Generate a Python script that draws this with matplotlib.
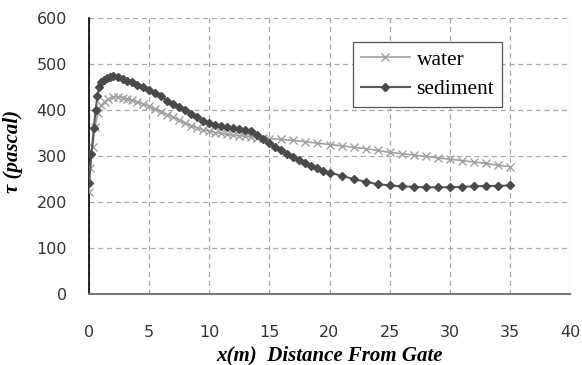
import matplotlib.pyplot as plt

# distance from gate (m) and shear stress (pascal)
water_x = [0, 0.1, 0.3, 0.5, 0.75, 1.0, 1.3, 1.6, 2.0, 2.4, 2.8, 3.2, 3.6, 4.0,
           4.5, 5.0, 5.5, 6.0, 6.5, 7.0, 7.5, 8.0, 8.5, 9.0, 9.5, 10.0, 10.5,
           11.0, 11.5, 12.0, 12.5, 13.0, 13.5, 14.0, 14.5, 15.0, 16, 17, 18,
           19, 20, 21, 22, 23, 24, 25, 26, 27, 28, 29, 30, 31, 32, 33, 34, 35]
water_tau = [222, 274, 320, 364, 393, 410, 418, 424, 428, 429, 427, 424, 421, 418,
             413, 408, 402, 396, 390, 384, 378, 372, 366, 361, 357, 354, 351,
             349, 347, 345, 344, 343, 341, 340, 339, 338, 336, 334, 331,
             328, 325, 322, 319, 316, 312, 308, 305, 302, 299, 296, 293, 290,
             287, 284, 280, 277]

sed_x = [0, 0.2, 0.4, 0.55, 0.7, 0.85, 1.0, 1.25, 1.5, 1.75, 2.0, 2.4, 2.8, 3.2,
         3.6, 4.0, 4.5, 5.0, 5.5, 6.0, 6.5, 7.0, 7.5, 8.0, 8.5, 9.0, 9.5, 10.0,
         10.5, 11.0, 11.5, 12.0, 12.5, 13.0, 13.5, 14.0, 14.5, 15.0, 15.5, 16,
         16.5, 17, 17.5, 18, 18.5, 19, 19.5, 20, 21, 22, 23, 24, 25, 26, 27,
         28, 29, 30, 31, 32, 33, 34, 35]
sed_tau = [241, 304, 360, 400, 431, 450, 460, 466, 470, 472, 473, 471, 468, 464,
           460, 455, 450, 444, 438, 430, 420, 412, 406, 400, 392, 384, 376, 372,
           368, 365, 363, 361, 359, 357, 354, 346, 336, 328, 320, 312,
           305, 298, 291, 285, 279, 273, 268, 264, 257, 250, 244, 239, 236, 234,
           233, 232, 232, 232, 233, 234, 235, 235, 236]

x_ticks = [0, 5, 10, 15, 20, 25, 30, 35, 40]
y_ticks = [0, 100, 200, 300, 400, 500, 600]

fig = plt.figure(figsize=(5.82, 3.65), dpi=100)
ax = fig.add_axes([89 / 582, 1 - 294 / 365, 481 / 582, 276 / 365])

ax.plot(water_x, water_tau, color='#a0a0a0', marker='x', markersize=6,
        markeredgewidth=1.0, linewidth=1.2, label='water', zorder=3)
ax.plot(sed_x, sed_tau, color='#5a5a5a', marker='D', markersize=4,
        markerfacecolor='#4a4a4a', markeredgecolor='#4a4a4a',
        linewidth=1.5, label='sediment', zorder=4)

ax.set_xlim(0, 40)
ax.set_ylim(0, 600)
ax.set_xticks(x_ticks)
ax.set_yticks(y_ticks)
ax.grid(True, linestyle=(0, (4, 3)), color='#a8a8a8', linewidth=0.9)
ax.tick_params(length=0, labelsize=11.5, labelcolor='#333333')
ax.tick_params(axis='x', pad=22)
ax.tick_params(axis='y', pad=16)
for lab in ax.get_xticklabels() + ax.get_yticklabels():
    lab.set_family('DejaVu Sans')

for s in ['top', 'right']:
    ax.spines[s].set_visible(False)
ax.spines['left'].set_color('black')
ax.spines['left'].set_linewidth(1.2)
ax.spines['bottom'].set_color('#777777')
ax.spines['bottom'].set_linewidth(1.5)

ax.set_xlabel('x(m)  Distance From Gate', family='Liberation Serif',
              fontsize=15, fontweight='bold', style='italic', labelpad=4)
ax.set_ylabel('τ (pascal)', family='Liberation Serif', fontsize=15,
              fontweight='bold', style='italic')
ax.yaxis.set_label_coords(-0.138, 0.515)

leg = ax.legend(loc='upper left', bbox_to_anchor=(0.549, 0.913),
                borderaxespad=0,
                prop={'family': 'Liberation Serif', 'size': 15.5},
                frameon=True, fancybox=False, framealpha=1,
                edgecolor='#555555', borderpad=0.35, handlelength=2.3,
                labelspacing=0.45, handletextpad=0.3)
leg.get_frame().set_linewidth(0.9)

fig.savefig('out.png', dpi=100)
